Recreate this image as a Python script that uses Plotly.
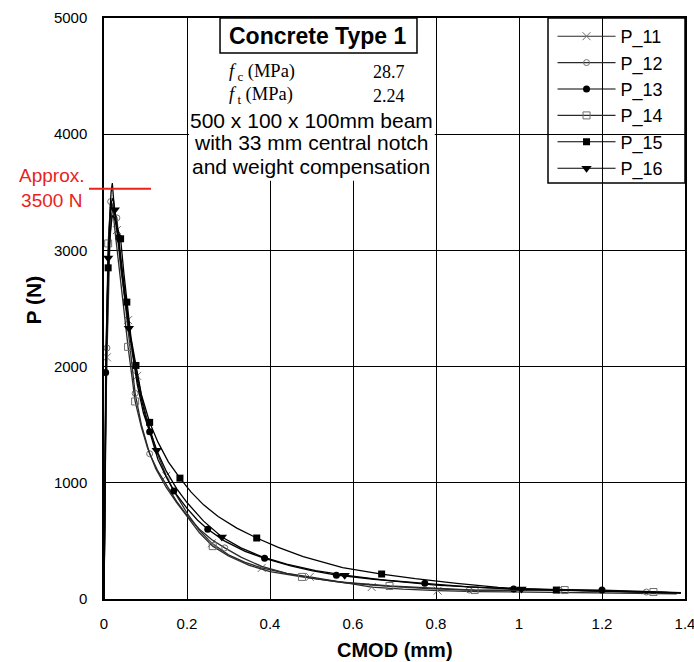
import plotly.graph_objects as go

# ---- measured load / CMOD curves (CMOD in mm, load in N) ----
cmod_p11 = [0, 0.002, 0.005, 0.007, 0.010, 0.014, 0.018, 0.022, 0.026, 0.031, 0.041, 0.050, 0.058,
            0.070, 0.080, 0.090, 0.100, 0.115, 0.130, 0.150, 0.170, 0.200, 0.230, 0.260, 0.300,
            0.340, 0.380, 0.440, 0.496, 0.560, 0.645, 0.720, 0.804, 0.900, 1.000, 1.100, 1.200,
            1.300, 1.380]
load_p11 = [0, 900, 1700, 2080, 2600, 3050, 3300, 3380, 3290, 3175, 2830, 2580, 2400,
            2120, 1920, 1750, 1600, 1400, 1240, 1060, 920, 740, 590, 480, 380,
            315, 267, 220, 190, 150, 103, 85, 72, 64, 60, 58, 55, 50, 45]
marks_p11 = [3, 9, 12, 14, 19, 23, 26, 28, 30, 32]

cmod_p12 = [0, 0.002, 0.005, 0.007, 0.010, 0.013, 0.016, 0.020, 0.025, 0.031, 0.040, 0.050,
            0.060, 0.075, 0.090, 0.110, 0.130, 0.150, 0.175, 0.200, 0.230, 0.260, 0.291, 0.330,
            0.380, 0.440, 0.500, 0.580, 0.680, 0.780, 0.880, 0.990, 1.097, 1.200, 1.307, 1.390]
load_p12 = [0, 950, 1800, 2160, 2750, 3200, 3420, 3400, 3330, 3280, 2900, 2560,
            2250, 1770, 1500, 1250, 1100, 980, 840, 720, 600, 510, 440, 360,
            280, 220, 180, 140, 110, 90, 77, 77, 77, 68, 60, 52]
marks_p12 = [3, 6, 9, 13, 15, 22, 30, 32, 34]

cmod_p13 = [0, 0.002, 0.004, 0.007, 0.010, 0.014, 0.017, 0.020, 0.024, 0.030, 0.035, 0.045,
            0.055, 0.065, 0.080, 0.095, 0.110, 0.130, 0.150, 0.168, 0.200, 0.225, 0.250, 0.290,
            0.340, 0.387, 0.450, 0.500, 0.560, 0.650, 0.773, 0.880, 0.987, 1.100, 1.200, 1.300,
            1.390]
load_p13 = [0, 1000, 1950, 2500, 2900, 3300, 3500, 3580, 3400, 3200, 3110, 2800,
            2480, 2200, 1850, 1600, 1440, 1200, 1050, 930, 780, 680, 600, 500,
            410, 350, 285, 245, 205, 170, 135, 105, 86, 80, 77, 65, 55]
marks_p13 = [2, 10, 16, 19, 22, 25, 28, 30, 32, 34]

cmod_p14 = [0, 0.002, 0.005, 0.010, 0.014, 0.018, 0.022, 0.027, 0.033, 0.040, 0.049, 0.058,
            0.066, 0.075, 0.090, 0.105, 0.125, 0.150, 0.175, 0.200, 0.230, 0.262, 0.300, 0.350,
            0.400, 0.477, 0.560, 0.688, 0.790, 0.893, 1.000, 1.110, 1.220, 1.324, 1.390]
load_p14 = [0, 1000, 2100, 3060, 3300, 3400, 3330, 3150, 2950, 2720, 2450, 2170,
            1950, 1700, 1480, 1300, 1120, 960, 830, 710, 570, 455, 370, 290,
            235, 190, 150, 112, 92, 77, 74, 77, 68, 60, 52]
marks_p14 = [3, 11, 13, 21, 25, 27, 29, 31, 33]

cmod_p15 = [0, 0.002, 0.005, 0.010, 0.015, 0.020, 0.025, 0.032, 0.040, 0.048, 0.055, 0.065,
            0.077, 0.090, 0.110, 0.130, 0.155, 0.183, 0.210, 0.240, 0.275, 0.320, 0.368, 0.420,
            0.480, 0.575, 0.669, 0.750, 0.850, 0.950, 1.000, 1.090, 1.200, 1.300, 1.390]
load_p15 = [0, 900, 2000, 2850, 3150, 3300, 3280, 3200, 3100, 2800, 2555, 2250,
            2010, 1760, 1520, 1350, 1180, 1040, 920, 810, 710, 610, 525, 445,
            365, 270, 215, 175, 135, 100, 90, 77, 68, 60, 52]
marks_p15 = [3, 8, 10, 12, 14, 17, 22, 26, 31]

cmod_p16 = [0, 0.002, 0.005, 0.010, 0.014, 0.018, 0.022, 0.026, 0.032, 0.040, 0.050, 0.060,
            0.072, 0.085, 0.100, 0.127, 0.150, 0.175, 0.200, 0.240, 0.284, 0.330, 0.380, 0.440,
            0.510, 0.580, 0.680, 0.800, 0.900, 1.006, 1.100, 1.200, 1.300, 1.390]
load_p16 = [0, 950, 2050, 2935, 3250, 3420, 3450, 3350, 3150, 2900, 2600, 2330,
            2050, 1800, 1570, 1280, 1100, 950, 830, 670, 534, 440, 365, 300,
            245, 205, 160, 120, 100, 86, 80, 72, 62, 52]
marks_p16 = [3, 7, 11, 15, 20, 25, 29]

series_names = ["P_11", "P_12", "P_13", "P_14", "P_15", "P_16"]

approx_peak = 3530          # level of the red reference line (N)
peak_label = "Approx.<br>3500 N"

fc_mpa = "28.7"
ft_mpa = "2.24"

x_ticks = [0, 0.2, 0.4, 0.6, 0.8, 1, 1.2, 1.4]
x_tick_text = ["0", "0.2", "0.4", "0.6", "0.8", "1", "1.2", "1.4"]
y_ticks = [0, 1000, 2000, 3000, 4000, 5000]

SANS = "Liberation Sans, Arial, Helvetica, sans-serif"
SERIF = "Liberation Serif, Times New Roman, serif"
GREY = "#6e6e6e"

styles = {
    "P_11": dict(symbol="x-thin-open", size=8, color=GREY, line=dict(width=1, color=GREY)),
    "P_12": dict(symbol="circle-open", size=6, color=GREY, line=dict(width=1, color=GREY)),
    "P_13": dict(symbol="circle", size=7, color="black"),
    "P_14": dict(symbol="square-open", size=7, color=GREY, line=dict(width=1, color=GREY)),
    "P_15": dict(symbol="square", size=7, color="black"),
    "P_16": dict(symbol="triangle-down", size=9, color="black"),
}
line_colors = {"P_11": "#2a2a2a", "P_12": "#2a2a2a", "P_13": "black",
               "P_14": "#2a2a2a", "P_15": "black", "P_16": "black"}

data = {
    "P_11": (cmod_p11, load_p11, marks_p11),
    "P_12": (cmod_p12, load_p12, marks_p12),
    "P_13": (cmod_p13, load_p13, marks_p13),
    "P_14": (cmod_p14, load_p14, marks_p14),
    "P_15": (cmod_p15, load_p15, marks_p15),
    "P_16": (cmod_p16, load_p16, marks_p16),
}

fig = go.Figure()

for name in series_names:
    xs, ys, marks = data[name]
    # continuous curve
    fig.add_trace(go.Scatter(x=xs, y=ys, mode="lines", showlegend=False, hoverinfo="skip",
                             line=dict(color=line_colors[name], width=1.3)))
    # sparse symbols placed on the curve
    fig.add_trace(go.Scatter(x=[xs[i] for i in marks], y=[ys[i] for i in marks],
                             mode="markers", showlegend=False, marker=styles[name]))

# legend entries (line + symbol)
for name in series_names:
    fig.add_trace(go.Scatter(x=[None], y=[None], mode="lines+markers", name=name,
                             line=dict(color=line_colors[name], width=1.1),
                             marker=styles[name]))

shapes = []
# white panel behind the specimen description (hides the grid there)
shapes.append(dict(type="rect", xref="x", yref="y", x0=0.205, x1=0.797, y0=3600, y1=5000,
                   fillcolor="white", line=dict(width=0), layer="between"))
# framed panel holding the legend
shapes.append(dict(type="rect", xref="paper", yref="paper", x0=0.7642, x1=1.0, y0=0.716, y1=1.0,
                   fillcolor="white", line=dict(color="black", width=1.5), layer="between"))
# title box
shapes.append(dict(type="rect", xref="paper", yref="paper", x0=0.1997, x1=0.5387, y0=0.9398, y1=1.0,
                   fillcolor="white", line=dict(color="black", width=1.5), layer="above"))
# red reference level
shapes.append(dict(type="line", xref="paper", yref="y", x0=-0.0258, x1=0.081,
                   y0=approx_peak, y1=approx_peak, line=dict(color="#e8231b", width=2), layer="above"))


def note(text, x, y, size, family=SANS, color="black", xanchor="center", **kw):
    return dict(text=text, x=x, y=y, xref="paper", yref="paper", showarrow=False,
                xanchor=xanchor, yanchor="middle",
                font=dict(family=family, size=size, color=color), **kw)


annotations = [
    note("<b>Concrete Type 1</b>", 0.368, 0.969, 23),
    note("<i>f</i><sub> c</sub> (MPa)", 0.211, 0.907, 18.5, family=SERIF, xanchor="left"),
    note(fc_mpa, 0.460, 0.907, 18, family=SERIF, xanchor="left"),
    note("<i>f</i><sub> t</sub> (MPa)", 0.211, 0.866, 18.5, family=SERIF, xanchor="left"),
    note(ft_mpa, 0.460, 0.866, 18, family=SERIF, xanchor="left"),
    note("500 x 100 x 100mm beam", 0.357, 0.824, 21),
    note("with 33 mm central notch", 0.357, 0.785, 21),
    note("and weight compensation", 0.357, 0.745, 21),
    note(peak_label, -0.091, 0.707, 19, color="#e8231b", align="center"),
    note("<b>P (N)</b>", -0.121, 0.515, 21, textangle=-90),
    note("<b>CMOD (mm)</b>", 0.5, -0.088, 20),
]

axis_common = dict(showgrid=True, gridcolor="black", gridwidth=1, zeroline=False,
                   showline=True, linecolor="black", linewidth=1.5, mirror=True,
                   ticks="", automargin=False, ticklabeloverflow="allow",
                   tickfont=dict(family=SANS, size=15, color="black"))

fig.update_layout(
    width=694, height=662,
    margin=dict(l=104, r=9, t=18, b=63),
    paper_bgcolor="white", plot_bgcolor="white",
    xaxis=dict(range=[0, 1.4], tickvals=x_ticks, ticktext=x_tick_text,
               ticklabelstandoff=10, **axis_common),
    yaxis=dict(range=[0, 5000], tickvals=y_ticks, ticklabelstandoff=12, **axis_common),
    shapes=shapes,
    annotations=annotations,
    legend=dict(x=0.772, y=1.0, xanchor="left", yanchor="top", bgcolor="rgba(0,0,0,0)",
                borderwidth=0, itemwidth=58,
                font=dict(family=SANS, size=18, color="black"), tracegroupgap=0),
    showlegend=True,
)

fig.write_html("out.html")
